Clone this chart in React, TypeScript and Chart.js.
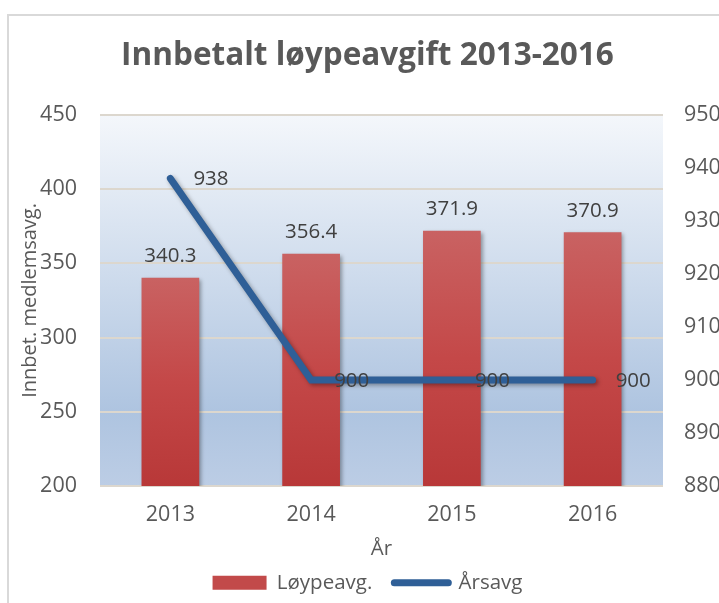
import React, { useEffect, useRef } from "react";
import { Chart, registerables } from "chart.js";

Chart.register(...registerables);

const years = ["2013", "2014", "2015", "2016"];
const loypeavg = [340.3, 356.4, 371.9, 370.9];
const arsavg = [938, 900, 900, 900];
const leftTicks = [200, 250, 300, 350, 400, 450];
const rightTicks = [880, 890, 900, 910, 920, 930, 940, 950];

const TEXT = "#595959";
const LABEL = "#404040";
const BLUE = "#2f5f97";
const FONT = "'Open Sans', sans-serif";
const TICK = 21.5;

const framePlugin = {
  id: "frame",
  beforeDraw(chart: any) {
    const { ctx, chartArea } = chart;
    ctx.save();
    ctx.fillStyle = "#ffffff";
    ctx.fillRect(0, 0, chart.width, chart.height);
    ctx.strokeStyle = "#d9d9d9";
    ctx.lineWidth = 2;
    ctx.strokeRect(8, 15, chart.width + 20, chart.height + 20);
    const g = ctx.createLinearGradient(0, chartArea.top, 0, chartArea.bottom);
    g.addColorStop(0, "#f4f7fb");
    g.addColorStop(0.8, "#aec4e0");
    g.addColorStop(1, "#bccde5");
    ctx.fillStyle = g;
    ctx.fillRect(chartArea.left, chartArea.top, chartArea.right - chartArea.left, chartArea.bottom - chartArea.top);
    ctx.restore();
  },
  beforeDatasetDraw(chart: any) {
    const ctx = chart.ctx;
    ctx.save();
    ctx.shadowColor = "rgba(0,0,0,0.35)";
    ctx.shadowBlur = 4;
    ctx.shadowOffsetX = 2;
    ctx.shadowOffsetY = 2;
  },
  afterDatasetDraw(chart: any) {
    chart.ctx.restore();
  },
  afterDatasetsDraw(chart: any) {
    const ctx = chart.ctx;
    ctx.save();
    ctx.font = `20.5px ${FONT}`;
    ctx.fillStyle = LABEL;
    const barMeta = chart.getDatasetMeta(0);
    barMeta.data.forEach((el: any, i: number) => {
      ctx.textAlign = "center";
      ctx.textBaseline = "bottom";
      ctx.fillText(loypeavg[i].toFixed(1), el.x, el.y - 11);
    });
    const lineMeta = chart.getDatasetMeta(1);
    lineMeta.data.forEach((el: any, i: number) => {
      ctx.textAlign = "left";
      ctx.textBaseline = "middle";
      ctx.fillText(String(arsavg[i]), el.x + 23, el.y + 1);
    });
    ctx.restore();
  },
};

export default function App() {
  const ref = useRef<HTMLCanvasElement>(null);
  useEffect(() => {
    if (!ref.current) return;
    const chart = new Chart(ref.current, {
      type: "bar",
      data: {
        labels: years,
        datasets: [
          {
            type: "bar",
            label: "Løypeavg.",
            data: loypeavg,
            yAxisID: "y",
            order: 1,
            barPercentage: 0.82,
            categoryPercentage: 0.5,
            borderWidth: 0,
            backgroundColor: (c: any) => {
              const chart = c.chart;
              const area = chart.chartArea;
              if (!area) return "#c24a4a";
              const v = c.raw ?? 300;
              const top = chart.scales.y.getPixelForValue(v);
              const g = chart.ctx.createLinearGradient(0, top, 0, area.bottom);
              g.addColorStop(0, "#c96262");
              g.addColorStop(0.5, "#c44848");
              g.addColorStop(1, "#b83838");
              return g;
            },
          },
          {
            type: "line",
            label: "Årsavg",
            data: arsavg,
            yAxisID: "y1",
            order: 0,
            borderColor: BLUE,
            backgroundColor: BLUE,
            borderWidth: 7,
            pointRadius: 0,
            tension: 0,
            borderCapStyle: "round",
            borderJoinStyle: "miter",
          },
        ],
      } as any,
      options: {
        animation: false,
        responsive: false,
        layout: { padding: { left: 16, right: 0, top: 0, bottom: 0 } },
        plugins: {
          tooltip: { enabled: false },
          title: {
            display: true,
            text: "Innbetalt løypeavgift 2013-2016",
            color: TEXT,
            font: { family: FONT, size: 31.5, weight: "bold" },
            padding: { top: 37, bottom: 40 },
          },
          legend: {
            position: "bottom",
            labels: {
              color: TEXT,
              font: { family: FONT, size: 20.5 },
              usePointStyle: true,
              pointStyleWidth: 54,
              boxHeight: 14,
              padding: 22,
              generateLabels: () => [
                {
                  text: "Løypeavg.",
                  fillStyle: "#c24a4a",
                  strokeStyle: "#c24a4a",
                  lineWidth: 0,
                  pointStyle: "rect",
                  datasetIndex: 0,
                  fontColor: TEXT,
                },
                {
                  text: "Årsavg",
                  fillStyle: BLUE,
                  strokeStyle: BLUE,
                  lineWidth: 7,
                  lineCap: "round",
                  pointStyle: "line",
                  datasetIndex: 1,
                  fontColor: TEXT,
                },
              ],
            },
          },
        },
        scales: {
          x: {
            grid: { display: false },
            border: { display: false },
            ticks: { color: TEXT, font: { family: FONT, size: TICK }, padding: 8 },
            title: {
              display: true,
              text: "År",
              color: TEXT,
              font: { family: FONT, size: 20.5 },
              padding: { top: 0, bottom: -11 },
            },
            afterFit: (s: any) => {
              const lh = s.chart.legend ? s.chart.legend.height : 40;
              s.height = 603 - 486 - lh;
            },
          },
          y: {
            position: "left",
            min: 200,
            max: 450,
            afterBuildTicks: (s: any) => {
              s.ticks = leftTicks.map((v) => ({ value: v }));
            },
            grid: { color: "#dcd7ce", lineWidth: 2, drawTicks: false },
            border: { display: false },
            ticks: { color: TEXT, font: { family: FONT, size: TICK }, padding: 23 },
            title: {
              display: true,
              text: "Innbet. medlemsavg.",
              color: TEXT,
              font: { family: FONT, size: 20 },
              padding: { top: 2, bottom: 0 },
            },
            afterFit: (s: any) => {
              s.width = 84;
            },
          },
          y1: {
            position: "right",
            min: 880,
            max: 950,
            afterBuildTicks: (s: any) => {
              s.ticks = rightTicks.map((v) => ({ value: v }));
            },
            grid: { display: false, drawTicks: false },
            border: { display: false },
            ticks: { color: TEXT, font: { family: FONT, size: TICK }, padding: 21 },
            afterFit: (s: any) => {
              s.width = 56;
            },
          },
        },
      } as any,
      plugins: [framePlugin],
    });
    return () => chart.destroy();
  }, []);
  return (
    <div style={{ position: "fixed", left: 0, top: 0, width: 719, height: 603, background: "#fff" }}>
      <canvas ref={ref} width={719} height={603} style={{ display: "block" }} />
    </div>
  );
}
